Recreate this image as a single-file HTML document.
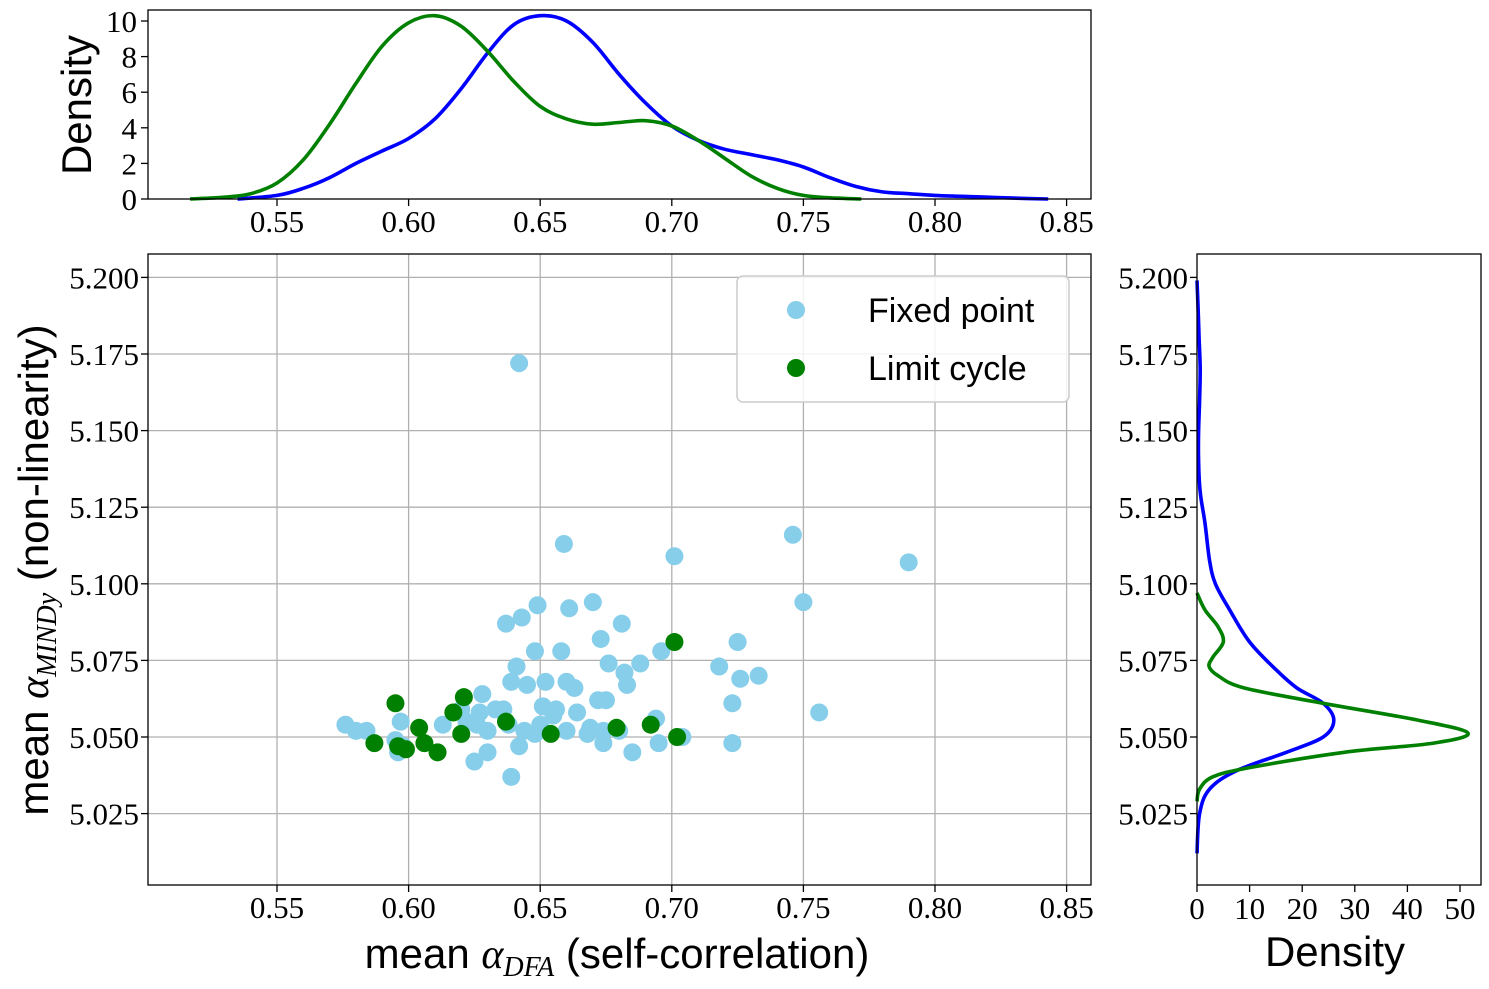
<!DOCTYPE html>
<html><head><meta charset="utf-8"><style>
body{margin:0;background:#fff;}
svg{display:block;}
.tk{font-family:"Liberation Serif",serif;font-size:31px;fill:#000;}
.lb{font-family:"Liberation Sans",sans-serif;font-size:42px;fill:#000;}
.lg{font-family:"Liberation Sans",sans-serif;font-size:34px;fill:#000;}
</style></head><body>
<svg id="fig" width="1489" height="989" viewBox="0 0 1489 989" xmlns="http://www.w3.org/2000/svg">
<rect width="1489" height="989" fill="#fff"/>
<g id="main"></g>
<g id="top"></g>
<g id="right"></g>
<text class="lb" x="617" y="968" text-anchor="middle">mean <tspan font-family="Liberation Serif" font-style="italic">α</tspan><tspan font-family="Liberation Serif" font-style="italic" font-size="28" dy="8">DFA</tspan><tspan dy="-8"> (self-correlation)</tspan></text>
<text class="lb" transform="translate(48,570) rotate(-90)" text-anchor="middle">mean <tspan font-family="Liberation Serif" font-style="italic">α</tspan><tspan font-family="Liberation Serif" font-style="italic" font-size="28" dy="8">MINDy</tspan><tspan dy="-8"> (non-linearity)</tspan></text>
<text class="lb" transform="translate(91,105) rotate(-90)" text-anchor="middle">Density</text>
<text class="lb" x="1335" y="966" text-anchor="middle">Density</text>
<g>
<rect x="737" y="276" width="332" height="126" rx="6" fill="#fff" fill-opacity="0.85" stroke="#ccc" stroke-width="1.5"/>
<circle cx="796" cy="310" r="9" fill="#87ceeb"/>
<text class="lg" x="868" y="322">Fixed point</text>
<circle cx="796" cy="368" r="9" fill="#008000"/>
<text class="lg" x="868" y="380">Limit cycle</text>
</g>
</svg>
<script>
const fixedX=[0.576,0.580,0.584,0.595,0.596,0.597,0.598,0.613,0.620,0.622,0.625,0.626,0.627,0.628,0.630,0.630,0.633,0.636,0.637,0.638,0.639,0.639,0.641,0.642,0.642,0.643,0.644,0.645,0.648,0.648,0.649,0.650,0.651,0.652,0.655,0.656,0.658,0.659,0.660,0.660,0.661,0.663,0.664,0.668,0.669,0.670,0.672,0.673,0.674,0.674,0.675,0.676,0.680,0.681,0.682,0.683,0.685,0.688,0.694,0.695,0.696,0.701,0.704,0.718,0.723,0.723,0.725,0.726,0.733,0.746,0.750,0.756,0.790];
const fixedY=[5.054,5.052,5.052,5.049,5.045,5.055,5.047,5.054,5.059,5.055,5.042,5.054,5.058,5.064,5.045,5.052,5.059,5.059,5.087,5.054,5.037,5.068,5.073,5.047,5.172,5.089,5.052,5.067,5.078,5.051,5.093,5.054,5.060,5.068,5.057,5.059,5.078,5.113,5.052,5.068,5.092,5.066,5.058,5.051,5.053,5.094,5.062,5.082,5.048,5.052,5.062,5.074,5.052,5.087,5.071,5.067,5.045,5.074,5.056,5.048,5.078,5.109,5.050,5.073,5.061,5.048,5.081,5.069,5.070,5.116,5.094,5.058,5.107];
const limitX=[0.587,0.595,0.596,0.599,0.604,0.606,0.611,0.617,0.620,0.621,0.637,0.654,0.679,0.692,0.701,0.702];
const limitY=[5.048,5.061,5.047,5.046,5.053,5.048,5.045,5.058,5.051,5.063,5.055,5.051,5.053,5.054,5.081,5.050];
const topBlueX=[0.535,0.55,0.56,0.57,0.58,0.59,0.60,0.61,0.62,0.63,0.64,0.65,0.66,0.67,0.68,0.69,0.70,0.71,0.72,0.73,0.74,0.75,0.76,0.77,0.78,0.79,0.80,0.81,0.82,0.83,0.843];
const topBlueD=[0,0.2,0.6,1.2,2.0,2.7,3.4,4.5,6.2,8.2,9.8,10.3,10.0,8.8,7.0,5.4,4.1,3.3,2.8,2.5,2.2,1.8,1.2,0.7,0.4,0.3,0.2,0.15,0.1,0.05,0];
const topGreenX=[0.517,0.53,0.54,0.55,0.56,0.57,0.58,0.59,0.60,0.61,0.62,0.63,0.64,0.65,0.66,0.67,0.68,0.69,0.70,0.71,0.72,0.73,0.74,0.75,0.76,0.772];
const topGreenD=[0,0.1,0.3,0.9,2.2,4.2,6.5,8.6,9.9,10.3,9.7,8.3,6.6,5.2,4.5,4.2,4.3,4.4,4.1,3.3,2.3,1.3,0.6,0.2,0.07,0];
const rightBlueY=[5.012,5.025,5.033,5.039,5.045,5.050,5.0555,5.061,5.066,5.072,5.081,5.0915,5.100,5.1075,5.12,5.13,5.14,5.15,5.16,5.17,5.18,5.19,5.199];
const rightBlueD=[0,0.5,2.4,7.5,17,24,26,24,19,15,10,6.2,3.5,2.4,1.5,0.6,0.3,0.3,0.5,0.6,0.4,0.2,0];
const rightGreenY=[5.029,5.033,5.037,5.040,5.045,5.048,5.0513,5.0555,5.061,5.066,5.070,5.073,5.076,5.081,5.086,5.0915,5.097];
const rightGreenD=[0,0.5,3,10,28,45,51.5,42,24,9,4,2.3,3,5,4,1.5,0];
const xTicks=[0.55,0.60,0.65,0.70,0.75,0.80,0.85];
const yTicks=[5.025,5.050,5.075,5.100,5.125,5.150,5.175,5.200];
const topTicks=[0,2,4,6,8,10];
const rightTicks=[0,10,20,30,40,50];

const NS="http://www.w3.org/2000/svg";
const X=v=>277+(v-0.55)/0.05*131.6;
const Y=v=>737-(v-5.05)/0.025*76.6;
const TY=d=>199-d*17.8;
const RX=d=>1197+d*5.26;
function mk(p,t,a){const e=document.createElementNS(NS,t);for(const k in a)e.setAttribute(k,a[k]);p.appendChild(e);return e;}
const main=document.getElementById('main'),top_=document.getElementById('top'),right=document.getElementById('right');
xTicks.forEach(t=>{const l=mk(main,'line',{x1:X(t),x2:X(t),y1:254,y2:885,stroke:'#b0b0b0','stroke-width':1.3});

});
yTicks.forEach(t=>{const l=mk(main,'line',{x1:148,x2:1091,y1:Y(t),y2:Y(t),stroke:'#b0b0b0','stroke-width':1.3});

});
fixedX.forEach((v,i)=>{const c=mk(main,'circle',{cx:X(v),cy:Y(fixedY[i]),r:9,fill:'#87ceeb'});

});
limitX.forEach((v,i)=>{const c=mk(main,'circle',{cx:X(v),cy:Y(limitY[i]),r:9,fill:'#008000'});

});
[[148,254,943,631],[148,10,943,189],[1197,254,284,631]].forEach(r=>{const f=mk(document.getElementById('fig'),'rect',{x:r[0],y:r[1],width:r[2],height:r[3],fill:'none',stroke:'#000','stroke-width':1.3});

});
[[main,885],[top_,199]].forEach(([g,yb])=>{xTicks.forEach(t=>{mk(g,'line',{x1:X(t),x2:X(t),y1:yb,y2:yb+7,stroke:'#000','stroke-width':1.3});
const tx=mk(g,'text',{x:X(t),y:yb+33,'text-anchor':'middle',class:'tk'});tx.textContent=t.toFixed(2);

});});
[[main,148],[right,1197]].forEach(([g,xb])=>{yTicks.forEach(t=>{mk(g,'line',{x1:xb-7,x2:xb,y1:Y(t),y2:Y(t),stroke:'#000','stroke-width':1.3});
const tx=mk(g,'text',{x:xb-9,y:Y(t)+11,'text-anchor':'end',class:'tk'});tx.textContent=t.toFixed(3);

});});
topTicks.forEach(t=>{mk(top_,'line',{x1:141,x2:148,y1:TY(t),y2:TY(t),stroke:'#000','stroke-width':1.3});
const tx=mk(top_,'text',{x:137,y:TY(t)+11,'text-anchor':'end',class:'tk'});tx.textContent=t;

});
rightTicks.forEach(t=>{mk(right,'line',{x1:RX(t),x2:RX(t),y1:885,y2:892,stroke:'#000','stroke-width':1.3});
const tx=mk(right,'text',{x:RX(t),y:919,'text-anchor':'middle',class:'tk'});tx.textContent=t;

});
function curve(g,xs,ys,fx,fy,col,name){
const P=xs.map((v,i)=>[fx(v),fy(ys[i])]);
let d='M'+P[0][0].toFixed(1)+','+P[0][1].toFixed(1);
for(let i=0;i<P.length-1;i++){const p0=P[Math.max(0,i-1)],p1=P[i],p2=P[i+1],p3=P[Math.min(P.length-1,i+2)];
const c1=[p1[0]+(p2[0]-p0[0])/6,p1[1]+(p2[1]-p0[1])/6],c2=[p2[0]-(p3[0]-p1[0])/6,p2[1]-(p3[1]-p1[1])/6];
d+=' C'+c1.map(v=>v.toFixed(1)).join(',')+' '+c2.map(v=>v.toFixed(1)).join(',')+' '+p2.map(v=>v.toFixed(1)).join(',');}
const p=mk(g,'path',{d:d,fill:'none',stroke:col,'stroke-width':3.6,'stroke-linejoin':'round'});

}
curve(top_,topBlueX,topBlueD,X,TY,'#0000ff','fixed-point-density-x');
curve(top_,topGreenX,topGreenD,X,TY,'#008000','limit-cycle-density-x');
curve(right,rightBlueD,rightBlueY,RX,Y,'#0000ff','fixed-point-density-y');
curve(right,rightGreenD,rightGreenY,RX,Y,'#008000','limit-cycle-density-y');
</script>
</body></html>
